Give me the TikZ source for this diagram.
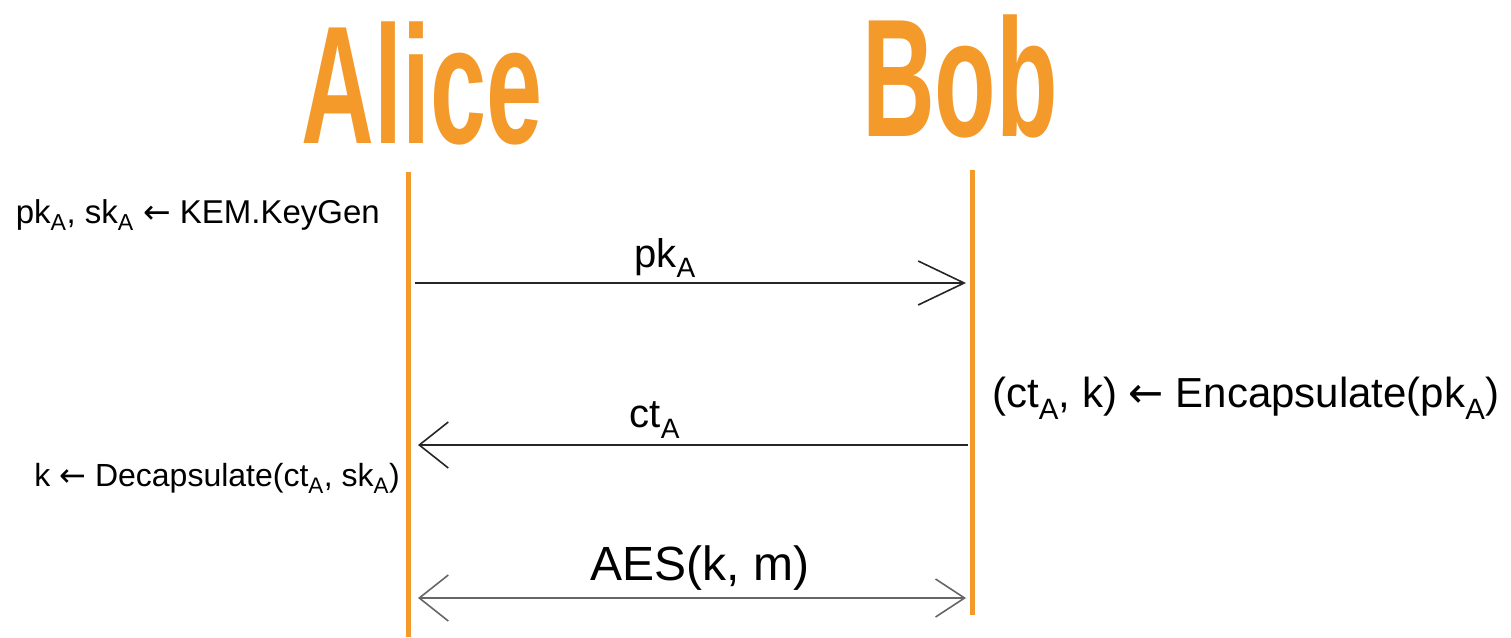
\documentclass[tikz,border=0pt]{standalone}
\usepackage{fontspec}
\setmainfont{Liberation Sans}
\newfontfamily\arrowfont{DejaVu Sans}
\usetikzlibrary{arrows.meta}
\definecolor{lifeorange}{HTML}{F39A2B}
\newcommand{\getsarrow}{{\arrowfont\char"2190}}

\begin{document}
\begin{tikzpicture}[x=1pt, y=-1pt,
  party/.style={text=lifeorange, inner sep=0pt, font=\fontsize{168}{170}\selectfont\bfseries},
  lifeline/.style={draw=lifeorange, line width=5pt},
  note/.style={inner sep=0pt, font=\fontsize{33}{40}\selectfont},
  msglabel/.style={inner sep=0pt, font=\fontsize{40}{48}\selectfont},
  msg/.style={draw=black!85, line width=1.3pt},
  longbarb/.tip={Straight Barb[length=46pt, width=44pt, line width=1.6pt]},
  shortbarb/.tip={Straight Barb[length=29pt, width=46pt, line width=1.6pt]}]
\useasboundingbox (0,0) rectangle (1511,637);
\node[party] (alice) at (422,83) {\scalebox{0.6}[1]{Alice}};
\node[party] (bob) at (960,76) {\scalebox{0.6}[1]{Bob}};
% lifelines
\coordinate (atop) at (408,172); \coordinate (abot) at (408,637);
\coordinate (btop) at (972,170); \coordinate (bbot) at (972,615);
\draw[lifeline] (atop) -- (abot);
\draw[lifeline] (btop) -- (bbot);
% message ends
\coordinate (pkfrom) at (415,283); \coordinate (pkto) at (966,283);
\coordinate (ctfrom) at (968,445); \coordinate (ctto) at (418,445);
\coordinate (aesa) at (418,598); \coordinate (aesb) at (966,598);
\draw[msg, -{longbarb}] (pkfrom) -- (pkto);
\draw[msg, -{shortbarb}] (ctfrom) -- (ctto);
\draw[msg, draw=black!60, {shortbarb}-{shortbarb[width=38pt]}] (aesa) -- (aesb);
\node[msglabel] (pklabel) at (665,258) {pk\textsubscript{A}};
\node[msglabel] (ctlabel) at (655,420) {ct\textsubscript{A}};
\node[msglabel, font=\fontsize{48}{56}\selectfont] (aeslabel) at (700,568) {AES(k, m)};
% local steps
\node[note, anchor=east] (keygen) at (380,215) {pk\textsubscript{A}, sk\textsubscript{A} \getsarrow{} KEM.KeyGen};
\node[note, anchor=west, font=\fontsize{42}{48}\selectfont] (encaps) at (992,398) {(ct\textsubscript{A}, k) \getsarrow{} Encapsulate(pk\textsubscript{A})};
\node[note, anchor=east, font=\fontsize{32}{40}\selectfont] (decaps) at (400,478) {k \getsarrow{} Decapsulate(ct\textsubscript{A}, sk\textsubscript{A})};
\end{tikzpicture}
\end{document}
